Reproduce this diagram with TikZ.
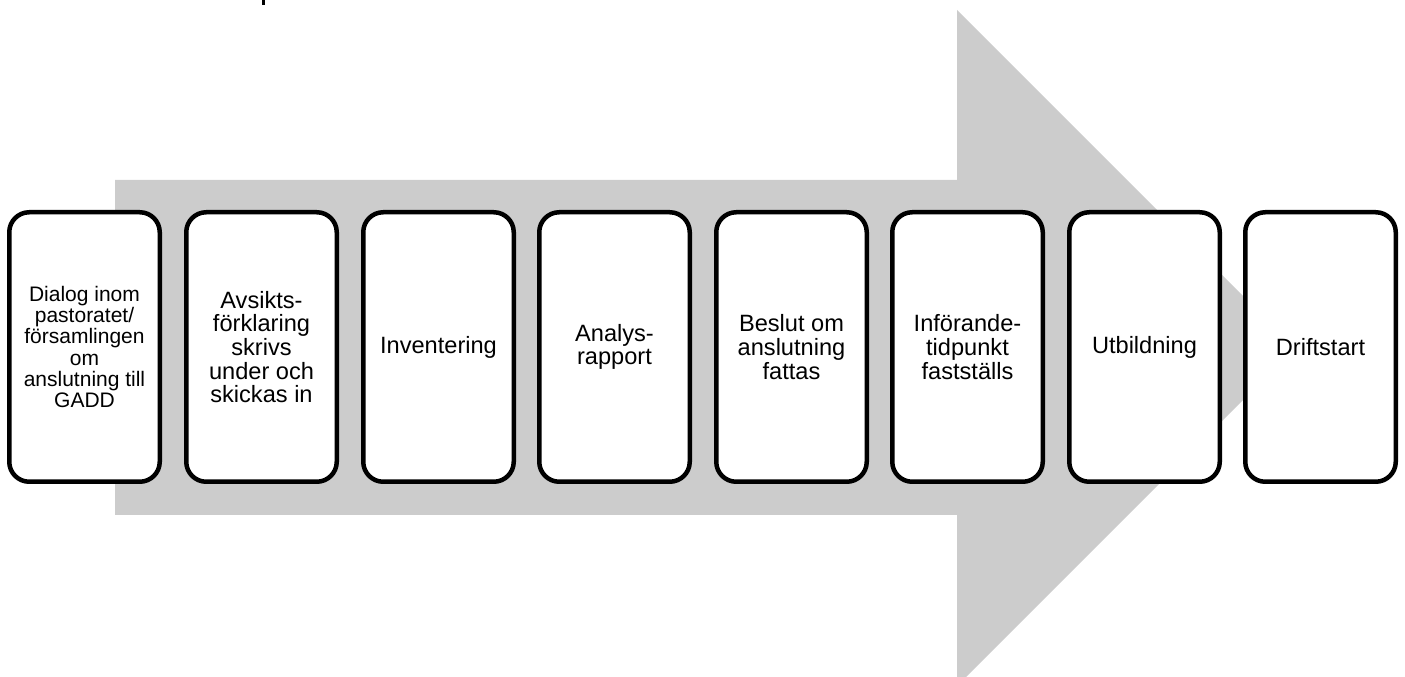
\documentclass[tikz,border=0pt]{standalone}
\usepackage{fontspec}
\setmainfont{Liberation Sans}
\definecolor{arrowgray}{RGB}{204,204,204}
\begin{document}
\begin{tikzpicture}[x=1pt,y=1pt,
  stepbox/.style={draw=black, line width=4.5pt, fill=white, rectangle,
    rounded corners=20pt, minimum width=150.5pt, minimum height=269.5pt,
    inner sep=0pt, align=center, font=\fontsize{23.6}{23.6}\selectfont},
  smalltext/.style={font=\fontsize{21}{21.3}\selectfont}]
\useasboundingbox (0,0) rectangle (1405,677);
% big background arrow
\fill[arrowgray] (115,497) -- (957,497) -- (957,667) -- (1295,329)
  -- (957,-9) -- (957,162) -- (115,162) -- cycle;
% cut-off descender at top edge
\fill[black] (262,672) rectangle (265,677);
% steps
\node[stepbox, smalltext] (s1) at (84.5,330) {Dialog inom\\pastoratet/\\församlingen\\om\\anslutning till\\GADD};
\node[stepbox] (s2) at (261.5,330) {Avsikts-\\förklaring\\skrivs\\under och\\skickas in};
\node[stepbox] (s3) at (438.5,330) {Inventering};
\node[stepbox] (s4) at (614.5,330) {Analys-\\rapport};
\node[stepbox] (s5) at (791.5,330) {Beslut om\\anslutning\\fattas};
\node[stepbox] (s6) at (967.5,330) {Införande-\\tidpunkt\\fastställs};
\node[stepbox] (s7) at (1144.5,330) {Utbildning};
\node[stepbox] (s8) at (1320.5,330) {Driftstart};
\end{tikzpicture}
\end{document}
